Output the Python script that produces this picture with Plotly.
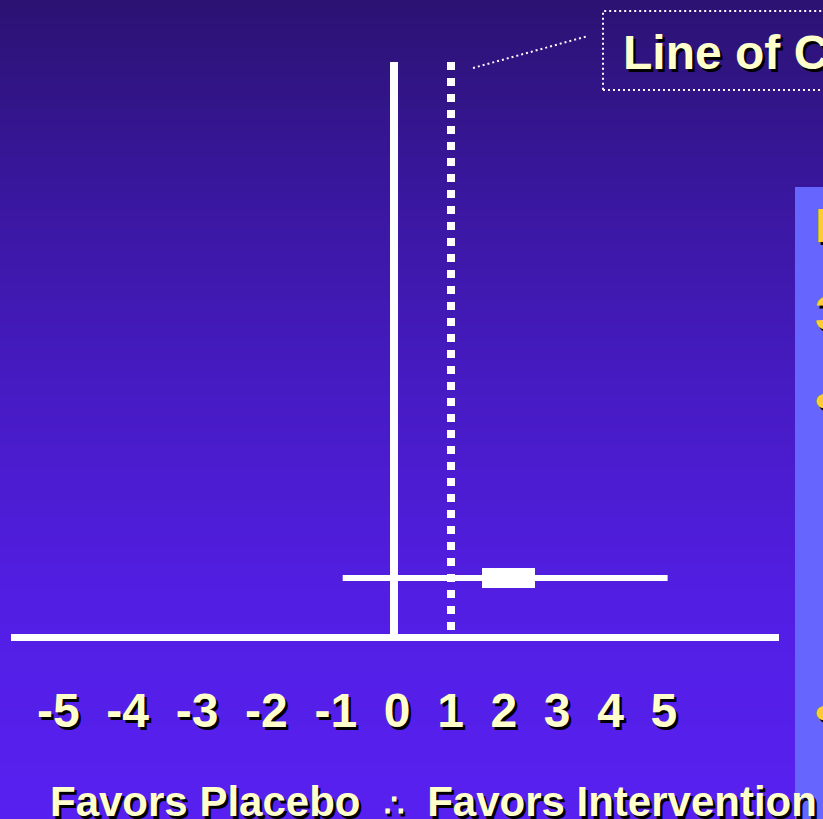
import plotly.graph_objects as go

# ---- data ----
tick_labels = ["-5", "-4", "-3", "-2", "-1", "0", "1", "2", "3", "4", "5"]
study_row = [1]
point_estimate = [2.0]
ci_lower = [-0.9]
ci_upper = [4.8]
line_of_no_effect = 0
line_of_clinical = 1
caption_left = "Favors Placebo"
caption_sym = "∴"
caption_right = "Favors Intervention"
callout_text = "Line of Clinical Significance"
side_texts = ["I", "3", "•", "•"]

W, H = 823, 819
TOP_Y = 9.75  # y-range top (plot area height in row units)

def px(x):
    return x / W

def py(y):
    return 1 - y / H

fig = go.Figure()

# confidence interval line
fig.add_trace(go.Scatter(
    x=[ci_lower[0], ci_upper[0]], y=[study_row[0], study_row[0]],
    mode="lines", line=dict(color="white", width=6), hoverinfo="skip"))

# point estimate box
box_w = 0.93
fig.add_trace(go.Bar(
    y=study_row, x=[box_w], base=[point_estimate[0] - box_w / 2],
    orientation="h", width=0.33, marker=dict(color="white", line=dict(width=0)),
    hoverinfo="skip"))

# dotted line of clinical significance (drawn top -> bottom)
fig.add_trace(go.Scatter(
    x=[line_of_clinical, line_of_clinical], y=[TOP_Y, 0],
    mode="lines", line=dict(color="white", width=8, dash="8px,8px"), hoverinfo="skip"))

# background gradient bands
stops = [(0, (0x2B, 0x12, 0x72)), (200, (0x3A, 0x17, 0xA0)), (400, (0x47, 0x1B, 0xC5)),
         (600, (0x52, 0x1E, 0xE3)), (819, (0x58, 0x20, 0xF0))]

def col_at(y):
    for (y0, c0), (y1, c1) in zip(stops[:-1], stops[1:]):
        if y0 <= y <= y1:
            t = (y - y0) / (y1 - y0)
            return "rgb(%d,%d,%d)" % tuple(round(a + (b - a) * t) for a, b in zip(c0, c1))
    return "rgb(%d,%d,%d)" % stops[-1][1]

shapes = []
band = 6
for y0 in range(0, H, band):
    shapes.append(dict(type="rect", xref="paper", yref="paper", layer="below",
                       x0=0, x1=1, y0=py(min(y0 + band, H)) - 0.001, y1=py(y0),
                       fillcolor=col_at(y0 + band / 2), line=dict(width=0)))

# right panel
shapes.append(dict(type="rect", xref="paper", yref="paper", layer="below",
                   x0=px(795), x1=1.1, y0=-0.1, y1=py(187),
                   fillcolor="#6666FF", line=dict(width=0)))
# callout box (dotted)
shapes.append(dict(type="rect", xref="paper", yref="paper", layer="above",
                   x0=px(603), x1=1.2, y0=py(90), y1=py(11),
                   fillcolor="rgba(0,0,0,0)", line=dict(color="white", width=2, dash="2px,3px")))
# leader line
shapes.append(dict(type="line", xref="paper", yref="paper", layer="above",
                   x0=px(473), y0=py(68), x1=px(588), y1=py(36),
                   line=dict(color="white", width=2, dash="2px,3px")))

FONT = "Liberation Sans, Arial, sans-serif"
SHADOW = "2.5px 2.5px 0px #000000"
light = "#FFFFCC"
yellow = "#FFCC33"

annotations = []
annotations.append(dict(
    text="\u00a0\u00a0".join(tick_labels), xref="paper", yref="paper",
    x=px(35), y=py(710), xanchor="left", yanchor="middle", showarrow=False,
    font=dict(family=FONT, size=48, color=light, weight="bold", shadow=SHADOW)))
caption = (caption_left + "\u00a0\u00a0<span style='font-size:32px'>" + caption_sym +
           "</span>\u00a0\u00a0" + caption_right)
annotations.append(dict(
    text=caption, xref="paper", yref="paper",
    x=px(48), y=py(801), xanchor="left", yanchor="middle", showarrow=False,
    font=dict(family=FONT, size=42, color=light, weight="bold", shadow=SHADOW)))
annotations.append(dict(
    text=callout_text, xref="paper", yref="paper",
    x=px(621), y=py(52), xanchor="left", yanchor="middle", showarrow=False,
    font=dict(family=FONT, size=48, color=light, weight="bold", shadow=SHADOW)))
side_y = [225, 313, 400, 712]
for t, yy in zip(side_texts, side_y):
    annotations.append(dict(
        text=t, xref="paper", yref="paper", x=px(813), y=py(yy),
        xanchor="left", yanchor="middle", showarrow=False,
        font=dict(family=FONT, size=48, color=yellow, weight="bold", shadow=SHADOW)))

x_left, x_right = 11, 779
zero_px = 394
scale = 57.0
xr = [-(zero_px - x_left) / scale, (x_right - zero_px) / scale]

fig.update_layout(
    width=W, height=H, autosize=False,
    margin=dict(l=0, r=0, t=0, b=0, pad=0),
    paper_bgcolor="#3A17A0", plot_bgcolor="rgba(0,0,0,0)",
    showlegend=False, bargap=0,
    shapes=shapes, annotations=annotations,
    xaxis=dict(domain=[px(x_left), px(x_right)], range=xr, showgrid=False,
               showticklabels=False, ticks="", zeroline=True, zerolinecolor="white",
               zerolinewidth=8, showline=False, fixedrange=True, layer="below traces"),
    yaxis=dict(domain=[py(637), py(62)], range=[0, TOP_Y], showgrid=False,
               showticklabels=False, ticks="", zeroline=True, zerolinecolor="white",
               zerolinewidth=7, showline=False, fixedrange=True),
)

fig.write_html("out.html", config={"displayModeBar": False},
               post_script="document.body.style.margin='0';document.body.style.overflow='hidden';")
